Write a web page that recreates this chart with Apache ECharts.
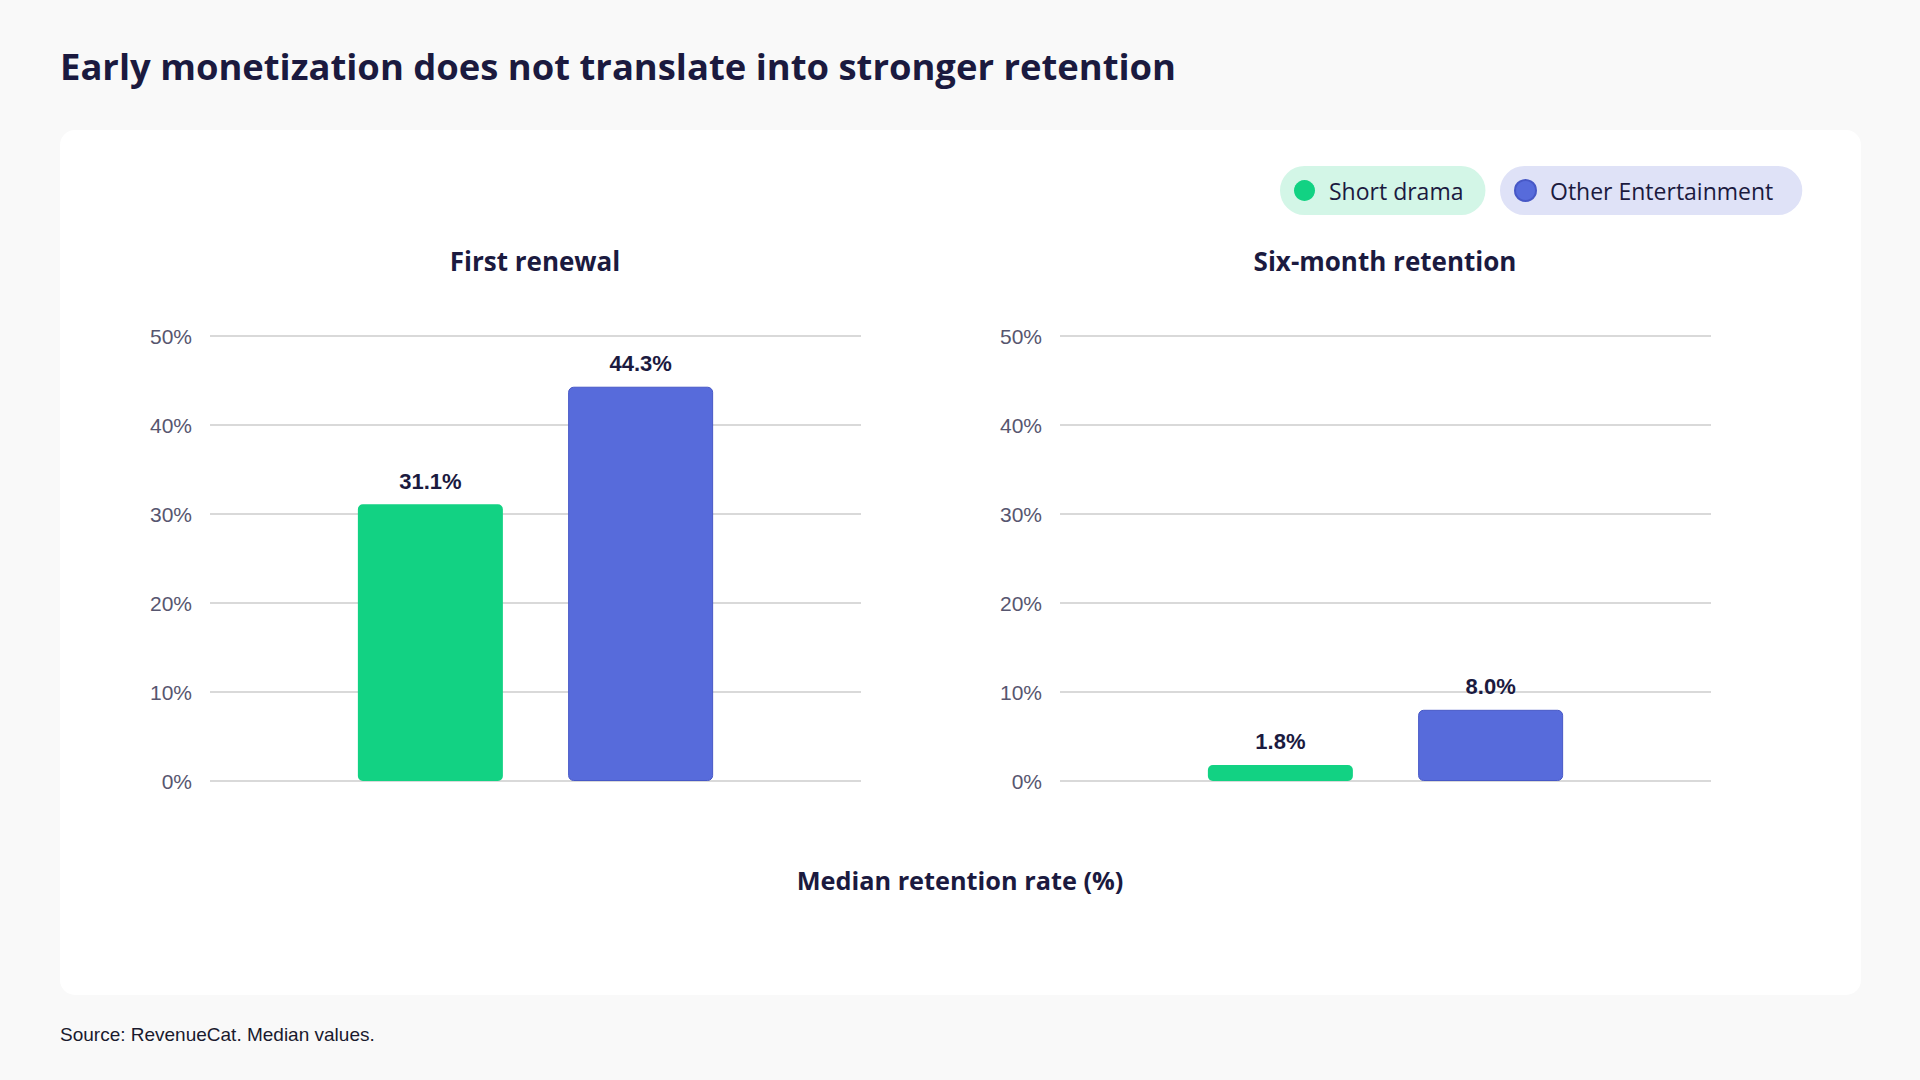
<!DOCTYPE html>
<html>
<head>
<meta charset="utf-8">
<script src="https://cdn.jsdelivr.net/npm/echarts@6/dist/echarts.min.js"></script>
<style>
  html, body { margin: 0; padding: 0; background: #f9f9f9; }
  #chart { width: 1920px; height: 1080px; }
</style>
</head>
<body>
<div id="chart"></div>
<script>
// ---- data ----
const chartTitle = 'Early monetization does not translate into stronger retention';
const metrics = ['First renewal', 'Six-month retention'];
const seriesNames = ['Short drama', 'Other Entertainment'];
const shortDrama = [31.1, 1.8];
const otherEntertainment = [44.3, 8.0];
const yTicks = [0, 10, 20, 30, 40, 50];
const axisTitle = 'Median retention rate (%)';
const sourceNote = 'Source: RevenueCat. Median values.';

// ---- styles ----
const GREEN = '#12d283';
const BLUE = '#576bdb';
const DARK = '#1b1a3f';
const HEAD_FONT = '"Open Sans"';
const NUM_FONT = '"Liberation Sans"';

const chart = echarts.init(document.getElementById('chart'), null, { renderer: 'svg' });

const gridLefts = [210, 1060];
const grids = gridLefts.map(l => ({ left: l, top: 336, width: 651, height: 445 }));

const xAxes = metrics.map((m, i) => ({
  type: 'category', gridIndex: i, data: [m],
  axisLine: { show: false }, axisTick: { show: false }, axisLabel: { show: false }
}));
const yAxes = metrics.map((m, i) => ({
  type: 'value', gridIndex: i,
  min: yTicks[0], max: yTicks[yTicks.length - 1], interval: yTicks[1] - yTicks[0],
  axisLine: { show: false }, axisTick: { show: false },
  axisLabel: { formatter: '{value}%', margin: 18, color: '#57566f', fontSize: 21, fontFamily: 'Liberation Sans', verticalAlign: 'middle', lineHeight: 21, padding: [0, 0, 8, 0] },
  splitLine: { lineStyle: { color: '#cccccc', width: 1.5 } }
}));

const labelCfg = {
  show: true, position: 'top', distance: 12,
  formatter: p => p.value.toFixed(1) + '%',
  color: DARK, fontSize: 22, fontWeight: 'bold', fontFamily: 'Liberation Sans'
};

const series = [];
metrics.forEach((m, i) => {
  series.push({
    name: seriesNames[0], type: 'bar', xAxisIndex: i, yAxisIndex: i,
    data: [shortDrama[i]], barWidth: 145, barGap: '45%',
    itemStyle: { color: GREEN, borderRadius: 5 },
    label: labelCfg
  });
  series.push({
    name: seriesNames[1], type: 'bar', xAxisIndex: i, yAxisIndex: i,
    data: [otherEntertainment[i]], barWidth: 145, barGap: '45%',
    itemStyle: { color: BLUE, borderRadius: 5, borderColor: '#4758c6', borderWidth: 1 },
    label: labelCfg
  });
});

const legendBase = {
  orient: 'horizontal', top: 166, icon: 'circle', itemWidth: 21, itemHeight: 21,
  borderRadius: 26, selectedMode: false,
  textStyle: { fontSize: 23, color: DARK, fontFamily: 'Open Sans', padding: [0, 0, 0, 9] }
};

const option = {
  animation: false,
  color: [GREEN, BLUE],
  grid: grids,
  xAxis: xAxes,
  yAxis: yAxes,
  legend: [
    Object.assign({}, legendBase, { data: [seriesNames[0]], left: 1280, padding: [13, 22, 13, 14], backgroundColor: '#d3f6e7' }),
    Object.assign({}, legendBase, { data: [seriesNames[1]], left: 1500, padding: [13, 29, 13, 14], backgroundColor: '#dfe2f7' })
  ],
  graphic: { elements: [
    { type: 'rect', z: -10, silent: true, shape: { x: 60, y: 130, width: 1801, height: 865, r: 15 }, style: { fill: '#ffffff' } },
    { type: 'text', x: 60, y: 66, style: { text: chartTitle, fill: DARK, font: 'bold 36.4px ' + HEAD_FONT, textAlign: 'left', textVerticalAlign: 'middle' } },
    { type: 'text', x: 535, y: 261, style: { text: metrics[0], fill: DARK, font: 'bold 26px ' + HEAD_FONT, textAlign: 'center', textVerticalAlign: 'middle' } },
    { type: 'text', x: 1385, y: 261, style: { text: metrics[1], fill: DARK, font: 'bold 26px ' + HEAD_FONT, textAlign: 'center', textVerticalAlign: 'middle' } },
    { type: 'text', x: 960, y: 880, style: { text: axisTitle, fill: DARK, font: 'bold 25.3px ' + HEAD_FONT, textAlign: 'center', textVerticalAlign: 'middle' } },
    { type: 'text', x: 60, y: 1034, style: { text: sourceNote, fill: '#1a1a2e', font: '19px ' + NUM_FONT, textAlign: 'left', textVerticalAlign: 'middle' } }
  ] },
  series: series
};
chart.setOption(option);
</script>
</body>
</html>
